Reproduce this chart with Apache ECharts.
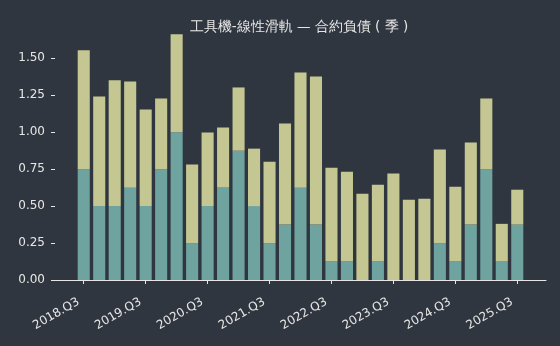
<!DOCTYPE html>
<html>
<head>
<meta charset="utf-8">
<script src="https://cdn.jsdelivr.net/npm/echarts@6/dist/echarts.min.js"></script>
<style>
  html, body { margin: 0; padding: 0; background: #30363f; }
  #chart { width: 560px; height: 346px; }
</style>
</head>
<body>
<div id="chart"></div>
<script>
var quarters = ['2018.Q3','2018.Q4','2019.Q1','2019.Q2','2019.Q3','2019.Q4','2020.Q1','2020.Q2',
                '2020.Q3','2020.Q4','2021.Q1','2021.Q2','2021.Q3','2021.Q4','2022.Q1','2022.Q2',
                '2022.Q3','2022.Q4','2023.Q1','2023.Q2','2023.Q3','2023.Q4','2024.Q1','2024.Q2',
                '2024.Q3','2024.Q4','2025.Q1','2025.Q2','2025.Q3'];
// lower (teal) part
var baseValues = [0.75,0.5,0.5,0.625,0.5,0.75,1.0,0.25,0.5,0.625,0.875,0.5,0.25,0.375,0.625,0.375,
                  0.125,0.125,0,0.125,0,0,0,0.25,0.125,0.375,0.75,0.125,0.375];
// upper (khaki) part
var topValues = [0.805,0.742,0.851,0.719,0.654,0.479,0.663,0.531,0.498,0.407,0.428,0.389,0.551,0.684,
                 0.780,1.003,0.635,0.608,0.584,0.520,0.720,0.543,0.550,0.633,0.506,0.555,0.479,0.255,0.236];
var yTicks = [0, 0.25, 0.5, 0.75, 1.0, 1.25, 1.5];

var textColor = '#e6e6e6';
var font = 'DejaVu Sans';

var chart = echarts.init(document.getElementById('chart'));
chart.setOption({
    backgroundColor: '#30363f',
    animation: false,
    title: {
        text: '工具機-線性滑軌 — 合約負債 ( 季 )',
        left: 294, top: 15, textAlign: 'center',
        textStyle: { color: textColor, fontSize: 13.5, fontWeight: 'normal', fontFamily: font }
    },
    grid: [
        { left: 76, right: 35, top: 22, bottom: 66 },
        { left: 55, right: 14, top: 22, bottom: 66 }
    ],
    xAxis: [
        {
            type: 'category', gridIndex: 0, data: quarters,
            axisLine: { show: false },
            axisTick: { show: true, interval: 3, alignWithLabel: true, length: 4,
                        lineStyle: { color: textColor, width: 1 } },
            axisLabel: { interval: 3, rotate: 30, color: textColor, fontSize: 12,
                         fontFamily: font, margin: 18, padding: [0, 6, 0, 0] }
        },
        {
            type: 'value', gridIndex: 1, min: 0, max: 1,
            axisLine: { show: true, onZero: false, lineStyle: { color: textColor, width: 1 } },
            axisTick: { show: false }, axisLabel: { show: false }, splitLine: { show: false }
        }
    ],
    yAxis: [
        {
            type: 'value', gridIndex: 0, min: 0, max: 1.746,
            show: false, splitLine: { show: false }
        },
        {
            type: 'value', gridIndex: 1, min: 0, max: 1.746, interval: 0.25,
            axisLine: { show: false },
            axisTick: { show: true, length: 4, lineStyle: { color: textColor } },
            axisLabel: { color: textColor, fontSize: 12, fontFamily: font, showMaxLabel: false, margin: 10,
                         formatter: function (v) { return yTicks.indexOf(v) >= 0 ? v.toFixed(2) : ''; } },
            splitLine: { show: false }
        }
    ],
    series: [
        {
            type: 'bar', stack: 'a', xAxisIndex: 0, yAxisIndex: 0, data: baseValues,
            barWidth: '78%', itemStyle: { color: '#6fa3a0' }
        },
        {
            type: 'bar', stack: 'a', xAxisIndex: 0, yAxisIndex: 0, data: topValues,
            barWidth: '78%', itemStyle: { color: '#c4c792' }
        }
    ]
});
</script>
</body>
</html>
